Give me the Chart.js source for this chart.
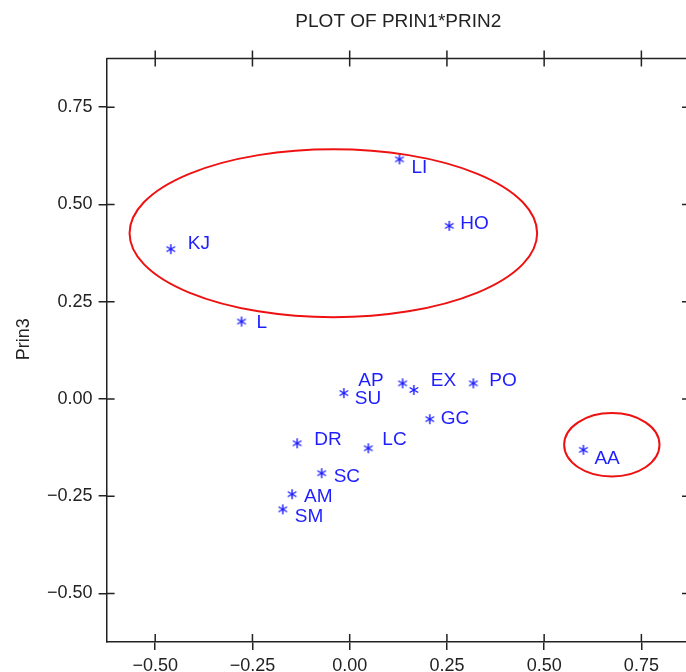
<!DOCTYPE html>
<html>
<head>
<meta charset="utf-8">
<script src="https://cdn.jsdelivr.net/npm/chart.js@4/dist/chart.umd.min.js"></script>
<style>
  html, body { margin: 0; padding: 0; background: #fff; overflow: hidden; }
  #wrap { width: 686px; height: 672px; overflow: hidden; }
  canvas { display: block; }
</style>
</head>
<body>
<div id="wrap"><canvas id="c" width="700" height="672"></canvas></div>
<script>
// ---- data ----
const names = ['KJ','LI','HO','L','SU','AP','EX','PO','GC','DR','LC','SC','AM','SM','AA'];
const prin2 = [-0.460, 0.128, 0.256, -0.278, -0.015, 0.136, 0.165, 0.318, 0.206, -0.135, 0.048, -0.072, -0.148, -0.172, 0.601];
const prin3 = [0.385, 0.616, 0.445, 0.199, 0.015, 0.040, 0.023, 0.040, -0.052, -0.114, -0.127, -0.191, -0.245, -0.284, -0.131];
const xTicks = [-0.50, -0.25, 0.00, 0.25, 0.50, 0.75];
const yTicks = [-0.50, -0.25, 0.00, 0.25, 0.50, 0.75];
const axisMin = -0.625, axisMax = 0.875;
// ellipses (data units)
const ellipseCX = [-0.042, 0.674];
const ellipseCY = [0.426, -0.118];
const ellipseRX = [0.524, 0.1226];
const ellipseRY = [0.216, 0.0815];

// label placement nudges (pixels, relative to the marker); negative dx = label on the left
const labelDx = [17, 12, 11, 15, 11, -19, 17, 16, 11, 17, 14, 12, 12, 12, 11];
const labelDy = [-5, 8, -2, 1, 6, -3, -9, -3, 0, -3, -9, 4, 3, 7, 9];

const titleText = 'PLOT OF PRIN1*PRIN2';
const yTitle = 'Prin3';

const BLUE = '#1e1eff';
const INK = '#222';
const FONT = '"Liberation Sans", Arial, sans-serif';

// asterisk marker
function makeAsterisk() {
  const c = document.createElement('canvas');
  c.width = 12; c.height = 12;
  const g = c.getContext('2d');
  g.strokeStyle = BLUE; g.lineWidth = 1.4;
  const cx = 6, cy = 6, r = 5;
  g.beginPath();
  g.moveTo(cx, cy - r); g.lineTo(cx, cy + r);
  const a = Math.PI / 6;
  g.moveTo(cx - r * Math.cos(a), cy - r * Math.sin(a)); g.lineTo(cx + r * Math.cos(a), cy + r * Math.sin(a));
  g.moveTo(cx - r * Math.cos(a), cy + r * Math.sin(a)); g.lineTo(cx + r * Math.cos(a), cy - r * Math.sin(a));
  g.stroke();
  return c;
}

const fmt = v => (v < 0 ? '\u2212' : '') + Math.abs(v).toFixed(2);

const framePlugin = {
  id: 'frame',
  afterDatasetsDraw(chart) {
    const g = chart.ctx, a = chart.chartArea;
    const xs = chart.scales.x, ys = chart.scales.y;
    g.save();
    // ellipses
    g.strokeStyle = '#ee1111'; g.lineWidth = 2;
    for (let i = 0; i < ellipseCX.length; i++) {
      const px = xs.getPixelForValue(ellipseCX[i]);
      const py = ys.getPixelForValue(ellipseCY[i]);
      const rx = Math.abs(xs.getPixelForValue(ellipseCX[i] + ellipseRX[i]) - px);
      const ry = Math.abs(ys.getPixelForValue(ellipseCY[i] + ellipseRY[i]) - py);
      g.beginPath(); g.ellipse(px, py, rx, ry, 0, 0, Math.PI * 2); g.stroke();
    }
    // point labels
    const meta = chart.getDatasetMeta(0);
    g.fillStyle = BLUE; g.font = '19px ' + FONT; g.textBaseline = 'middle';
    meta.data.forEach((pt, i) => {
      g.textAlign = labelDx[i] < 0 ? 'right' : 'left';
      g.fillText(names[i], pt.x + labelDx[i], pt.y + labelDy[i]);
    });
    // frame: top and right lines, crossing ticks
    g.strokeStyle = INK; g.lineWidth = 1.5;
    g.beginPath();
    g.moveTo(a.left, a.top); g.lineTo(a.right, a.top); g.lineTo(a.right, a.bottom);
    xTicks.forEach(v => {
      const p = xs.getPixelForValue(v);
      g.moveTo(p, a.bottom); g.lineTo(p, a.bottom - 8);
      g.moveTo(p, a.top - 8); g.lineTo(p, a.top + 8);
    });
    yTicks.forEach(v => {
      const p = ys.getPixelForValue(v);
      g.moveTo(a.left, p); g.lineTo(a.left + 8, p);
      g.moveTo(a.right - 8, p); g.lineTo(a.right + 8, p);
    });
    g.stroke();
    // titles
    g.fillStyle = INK; g.textAlign = 'center'; g.textBaseline = 'middle';
    g.font = '19px ' + FONT;
    g.fillText(titleText, (a.left + a.right) / 2, 22);
    g.save();
    g.translate(24, (a.top + a.bottom) / 2 - 11);
    g.rotate(-Math.PI / 2);
    g.font = '18px ' + FONT;
    g.fillText(yTitle, 0, 0);
    g.restore();
    g.restore();
  }
};

const axisCommon = (tickVals) => ({
  type: 'linear',
  min: axisMin, max: axisMax,
  afterBuildTicks: s => { s.ticks = tickVals.map(v => ({ value: v })); },
  ticks: { callback: v => fmt(v), color: INK, font: { family: FONT, size: 18 }, autoSkip: false, maxRotation: 0, padding: 6 },
  grid: { drawOnChartArea: false, drawTicks: true, tickLength: 8, color: INK, lineWidth: 1.5 },
  border: { display: true, color: INK, width: 1.5 }
});

const xOpt = axisCommon(xTicks);
xOpt.afterFit = s => { s.height = 30; };
xOpt.ticks.padding = 5;
const yOpt = axisCommon(yTicks);
yOpt.afterFit = s => { s.width = 106.6; };

new Chart(document.getElementById('c'), {
  type: 'scatter',
  data: {
    datasets: [{
      data: prin2.map((x, i) => ({ x: x, y: prin3[i] })),
      pointStyle: makeAsterisk(),
      pointRadius: 6,
      pointHoverRadius: 6
    }]
  },
  options: {
    responsive: false,
    animation: false,
    events: [],
    layout: { padding: { top: 58.6, right: 10, left: 0, bottom: 0 } },
    plugins: { legend: { display: false }, tooltip: { enabled: false }, title: { display: false } },
    scales: { x: xOpt, y: yOpt }
  },
  plugins: [framePlugin]
});
</script>
</body>
</html>
